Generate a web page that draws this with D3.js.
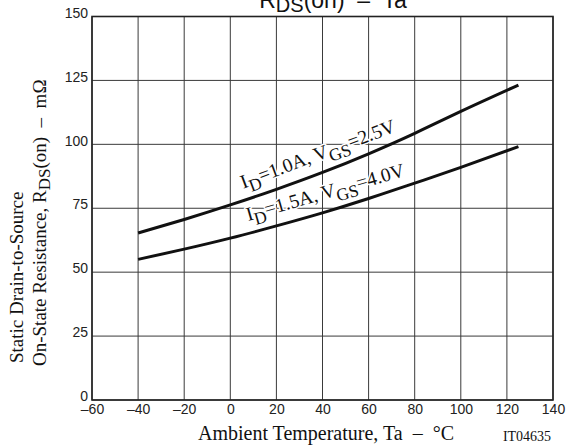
<!DOCTYPE html>
<html>
<head>
<meta charset="utf-8">
<script src="https://cdn.jsdelivr.net/npm/d3@7"></script>
<style>
  body { margin: 0; background: #fff; }
  svg { display: block; }
</style>
</head>
<body>
<div id="chart"></div>
<script>
var width = 573;
var height = 445;

// temperature points (deg C)
var temps = [-40, -20, 0, 20, 40, 60, 80, 100, 125];
// ID=1.0A, VGS=2.5V
var rdsLow = [65.3, 70.6, 76.3, 82.4, 89, 96.3, 104.3, 112.9, 123.2];
// ID=1.5A, VGS=4.0V
var rdsHigh = [55, 59, 63.3, 68.1, 73.2, 78.8, 84.8, 91, 99.1];

var xTicks = [-60, -40, -20, 0, 20, 40, 60, 80, 100, 120, 140];
var yTicks = [0, 25, 50, 75, 100, 125, 150];

var plotLeft = 92, plotRight = 553, plotTop = 16.5, plotBottom = 400;

var x = d3.scaleLinear().domain([-60, 140]).range([plotLeft, plotRight]);
var y = d3.scaleLinear().domain([0, 150]).range([plotBottom, plotTop]);

var serif = "Liberation Serif, Times New Roman, serif";
var sans = "Liberation Sans, Arial, sans-serif";

var svg = d3.select("#chart").append("svg")
    .attr("width", width)
    .attr("height", height);

// grid
svg.append("g").selectAll("line")
    .data(xTicks)
    .enter().append("line")
    .attr("x1", function (d) { return x(d); })
    .attr("x2", function (d) { return x(d); })
    .attr("y1", plotTop)
    .attr("y2", plotBottom)
    .attr("stroke", "#3a3a3a")
    .attr("stroke-width", 1);

svg.append("g").selectAll("line")
    .data(yTicks)
    .enter().append("line")
    .attr("x1", plotLeft)
    .attr("x2", plotRight)
    .attr("y1", function (d) { return y(d); })
    .attr("y2", function (d) { return y(d); })
    .attr("stroke", "#3a3a3a")
    .attr("stroke-width", 1);

// frame
svg.append("rect")
    .attr("x", plotLeft).attr("y", plotTop)
    .attr("width", plotRight - plotLeft).attr("height", plotBottom - plotTop)
    .attr("fill", "none")
    .attr("stroke", "#222")
    .attr("stroke-width", 1.6);

// tick labels via d3 axes, lines hidden
var xAxis = svg.append("g")
    .attr("transform", "translate(0," + plotBottom + ")")
    .call(d3.axisBottom(x).tickValues(xTicks).tickSize(0).tickPadding(4)
        .tickFormat(function (d) { return d < 0 ? "\u2013" + (-d) : d; }));
xAxis.select(".domain").remove();
xAxis.selectAll("text")
    .attr("font-family", sans)
    .attr("font-size", 14)
    .attr("fill", "#222");

var yAxis = svg.append("g")
    .attr("transform", "translate(" + plotLeft + ",0)")
    .call(d3.axisLeft(y).tickValues(yTicks).tickSize(0).tickPadding(4));
yAxis.select(".domain").remove();
yAxis.selectAll("text")
    .attr("font-family", sans)
    .attr("font-size", 14)
    .attr("fill", "#222")
    .attr("dy", "0.05em");

// curve labels (drawn before the curves, with a white halo over the grid)
function curveLabel(cx, cy, angle, id, vgs) {
    var t = svg.append("text")
        .attr("transform", "translate(" + cx + "," + cy + ") rotate(" + angle + ")")
        .attr("text-anchor", "middle")
        .attr("font-family", serif)
        .attr("font-size", 19.5)
        .attr("fill", "#111")
        .attr("stroke", "#fff")
        .attr("stroke-width", 3)
        .attr("stroke-linejoin", "round")
        .attr("paint-order", "stroke");
    t.append("tspan").text("I");
    t.append("tspan").attr("dy", 6).attr("font-size", 17.5).text("D");
    t.append("tspan").attr("dy", -6).text("=" + id + ", V");
    t.append("tspan").attr("dy", 6).attr("font-size", 17.5).text("GS");
    t.append("tspan").attr("dy", -6).text("=" + vgs);
}
curveLabel(320, 160, -20.5, "1.0A", "2.5V");
curveLabel(327, 198.5, -16, "1.5A", "4.0V");

// curves
var line = d3.line()
    .x(function (d) { return x(d[0]); })
    .y(function (d) { return y(d[1]); })
    .curve(d3.curveNatural);

[rdsLow, rdsHigh].forEach(function (series) {
    svg.append("path")
        .attr("d", line(temps.map(function (t, i) { return [t, series[i]]; })))
        .attr("fill", "none")
        .attr("stroke", "#111")
        .attr("stroke-width", 3);
});

// title
var title = svg.append("text")
    .attr("x", 333).attr("y", 8)
    .attr("text-anchor", "middle")
    .attr("font-family", sans)
    .attr("font-size", 23)
    .attr("fill", "#111")
    .attr("xml:space", "preserve");
title.append("tspan").text("R");
title.append("tspan").attr("dy", 4).attr("font-size", 20).text("DS");
title.append("tspan").attr("dy", -4).text("(on)  \u2013  Ta");

// x title
svg.append("text")
    .attr("x", 326).attr("y", 440)
    .attr("text-anchor", "middle")
    .attr("font-family", serif)
    .attr("font-size", 20)
    .attr("fill", "#111")
    .attr("xml:space", "preserve")
    .text("Ambient Temperature, Ta  \u2013  \u00B0C");

svg.append("text")
    .attr("x", 527).attr("y", 441)
    .attr("text-anchor", "middle")
    .attr("font-family", serif)
    .attr("font-size", 14)
    .attr("fill", "#111")
    .text("IT04635");

// y title, two lines
svg.append("text")
    .attr("transform", "translate(23,363) rotate(-90)")
    .attr("font-family", serif)
    .attr("font-size", 19)
    .attr("fill", "#111")
    .text("Static Drain-to-Source");

var yt = svg.append("text")
    .attr("transform", "translate(46,366) rotate(-90)")
    .attr("font-family", serif)
    .attr("font-size", 19)
    .attr("fill", "#111")
    .attr("xml:space", "preserve");
yt.append("tspan").text("On-State Resistance, R");
yt.append("tspan").attr("dy", 4).attr("font-size", 17).text("DS");
yt.append("tspan").attr("dy", -4).text("(on)  \u2013  m\u03A9");
</script>
</body>
</html>
